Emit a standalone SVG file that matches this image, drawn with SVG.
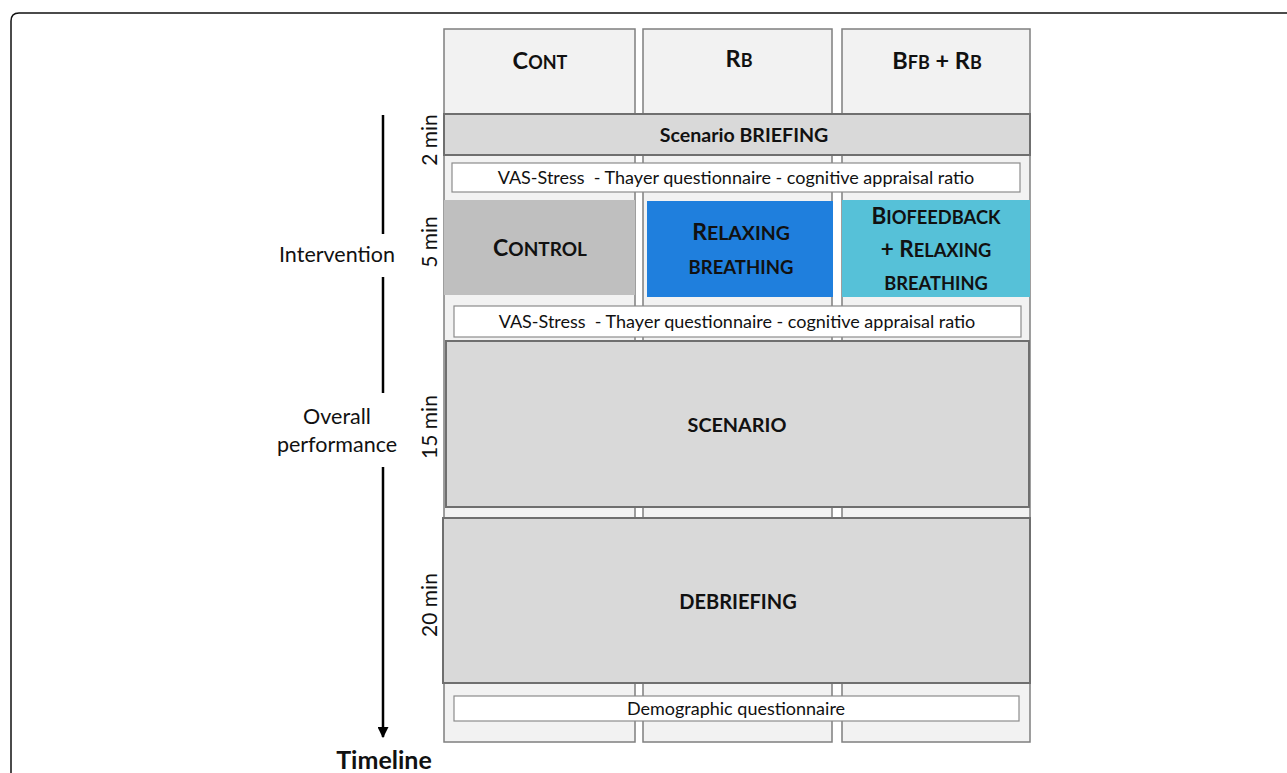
<svg xmlns="http://www.w3.org/2000/svg" width="1287" height="773" viewBox="0 0 1287 773">
<style>
text{font-family:Lato,"Open Sans","Liberation Sans",sans-serif;fill:#111}
.b{font-weight:bold}
.col{fill:#f2f2f2;stroke:#7f7f7f;stroke-width:1.5}
.bar{fill:#d9d9d9;stroke:#6f6f6f;stroke-width:2}
.q{fill:#fff;stroke:#8c8c8c;stroke-width:1.2}
.big{font-size:23.5px}
.sm{font-size:18px}
.lbl{font-size:21px;text-anchor:middle}
.mid{text-anchor:middle}
</style>
<defs>
<marker id="ah" viewBox="0 0 10 10" refX="9" refY="5" markerWidth="11" markerHeight="11" markerUnits="userSpaceOnUse" orient="auto"><path d="M0,0 L10,5 L0,10 z" fill="#000"/></marker>
</defs>
<rect width="1287" height="773" fill="#fff"/>
<path d="M11,773 V21 Q11,13 19,13 H1287" fill="none" stroke="#111" stroke-width="1.5"/>

<g id="columns">
<rect class="col" x="444" y="29" width="191" height="713"/>
<rect class="col" x="643" y="29" width="189" height="713"/>
<rect class="col" x="842" y="29" width="188" height="713"/>
</g>
<g id="headers">
<text class="b mid" x="540" y="69"><tspan class="big">C</tspan><tspan class="sm">ONT</tspan></text>
<text class="b mid" x="739" y="67"><tspan class="big">R</tspan><tspan class="sm">B</tspan></text>
<text class="b mid" x="937" y="69"><tspan class="big">B</tspan><tspan class="sm">FB</tspan><tspan class="big"> + R</tspan><tspan class="sm">B</tspan></text>
</g>
<g id="briefing">
<rect class="bar" x="444" y="114" width="586" height="41"/>
<text class="b mid" x="744" y="142" font-size="19.6">Scenario BRIEFING</text>
</g>
<g id="vas1">
<rect class="q" x="452" y="163" width="568" height="29"/>
<text class="mid" x="736" y="184" font-size="18">VAS-Stress&#160; - Thayer questionnaire - cognitive appraisal ratio</text>
</g>
<g id="control">
<rect x="444" y="200" width="191" height="95" fill="#bfbfbf"/>
<text class="b mid" x="540" y="256"><tspan font-size="23">C</tspan><tspan font-size="19">ONTROL</tspan></text>
</g>
<g id="relaxing">
<rect x="647" y="201" width="186" height="96" fill="#1f7fdd"/>
<text class="b mid" x="741" y="240"><tspan font-size="23">R</tspan><tspan font-size="19.5">ELAXING</tspan></text>
<text class="b mid" x="741" y="274" font-size="18.5">BREATHING</text>
</g>
<g id="biofeedback">
<rect x="842" y="200" width="188" height="97" fill="#56c1d8"/>
<text class="b mid" x="936" y="224"><tspan font-size="22.5">B</tspan><tspan font-size="18.3">IOFEEDBACK</tspan></text>
<text class="b mid" x="936" y="257"><tspan font-size="22.5">+ R</tspan><tspan font-size="18.3">ELAXING</tspan></text>
<text class="b mid" x="936" y="290" font-size="18.3">BREATHING</text>
</g>
<g id="vas2">
<rect class="q" x="454" y="306" width="567" height="31"/>
<text class="mid" x="737" y="328" font-size="18">VAS-Stress&#160; - Thayer questionnaire - cognitive appraisal ratio</text>
</g>
<g id="scenario">
<rect class="bar" x="446" y="341" width="583" height="166"/>
<text class="b mid" x="737" y="432" font-size="19.8">SCENARIO</text>
</g>
<g id="debriefing">
<rect class="bar" x="443" y="518" width="587" height="165"/>
<text class="b mid" x="738" y="609" font-size="20">DEBRIEFING</text>
</g>
<g id="demographic">
<rect class="q" x="454" y="696" width="565" height="25"/>
<text class="mid" x="736" y="715" font-size="18">Demographic questionnaire</text>
</g>
<g id="durations">
<text class="lbl" transform="translate(437,140) rotate(-90)">2 min</text>
<text class="lbl" transform="translate(437,242) rotate(-90)">5 min</text>
<text class="lbl" transform="translate(437,427) rotate(-90)">15 min</text>
<text class="lbl" transform="translate(437,605) rotate(-90)">20 min</text>
</g>
<g id="connectors">
<line x1="383" y1="115" x2="383" y2="234" stroke="#000" stroke-width="2.5"/>
<line x1="383" y1="277" x2="383" y2="393" stroke="#000" stroke-width="2.5"/>
<line x1="383" y1="467" x2="383" y2="737" stroke="#000" stroke-width="2.5" marker-end="url(#ah)"/>
</g>
<g id="axis-labels">
<text class="mid" x="337" y="262" font-size="21.5">Intervention</text>
<text class="mid" x="337" y="424" font-size="21.5">Overall</text>
<text class="mid" x="337" y="452" font-size="21.5">performance</text>
<text class="b mid" x="384" y="769" font-size="25">Timeline</text>
</g>
</svg>
